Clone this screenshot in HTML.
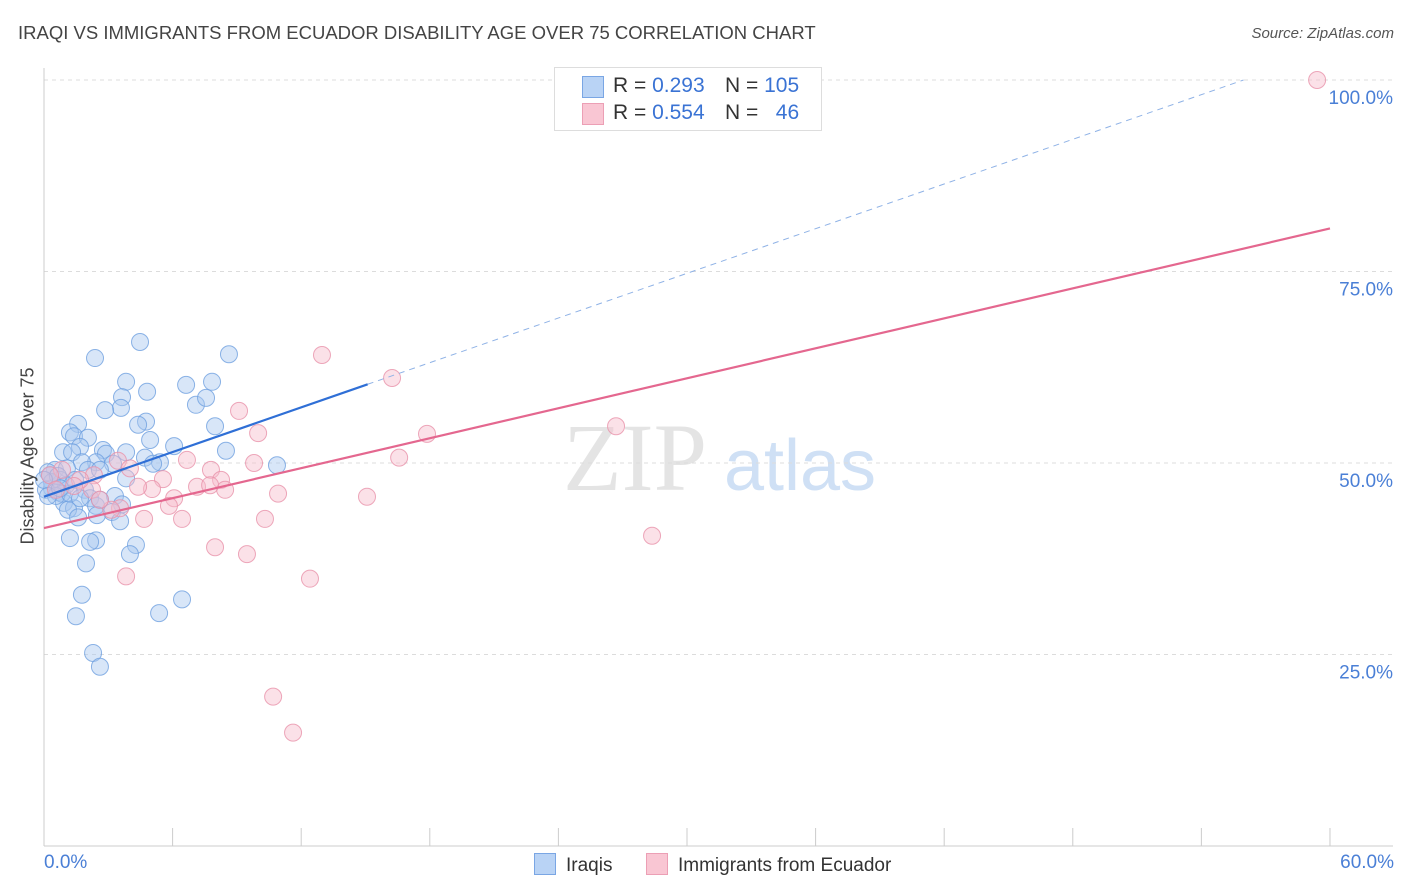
<!DOCTYPE html>
<html><head><meta charset="utf-8"><style>
body{margin:0;background:#fff;font-family:"Liberation Sans",sans-serif;}
svg{display:block}
</style></head><body>
<svg id="chart" width="1406" height="892"></svg>
<script>
const blueX=[2.38,4.48,8.63,3.83,6.63,7.84,4.81,3.64,7.09,7.56,3.59,2.85,4.76,4.39,7.98,1.59,1.21,1.40,2.05,4.95,1.68,2.75,3.83,6.07,8.49,2.89,0.89,1.31,2.43,1.77,4.71,5.41,3.22,5.09,10.87,0.51,1.07,2.05,2.61,0.28,0.75,1.45,3.83,0.37,0.65,1.03,1.91,2.15,3.31,0.93,1.40,2.43,2.61,3.64,1.12,3.17,2.47,3.55,1.59,1.21,2.43,2.15,4.29,4.01,1.96,1.77,1.49,5.37,6.44,2.29,2.61,0.19,0.37,0.65,0.84,0.09,0.56,1.21,1.68,0.0,0.19,0.75];
const blueY=[63.7,65.8,64.2,60.6,60.2,60.6,59.3,58.6,57.6,58.5,57.2,56.9,55.4,55.0,54.8,55.1,54.0,53.5,53.3,53.0,52.1,51.7,51.4,52.2,51.6,51.2,51.4,51.4,50.1,50.1,50.7,50.1,49.9,49.9,49.7,49.1,49.3,49.1,49.1,48.4,47.8,47.8,48.0,46.7,46.2,47.1,46.5,45.4,45.7,44.8,44.1,44.4,45.2,44.6,43.9,43.6,43.2,42.4,42.9,40.2,39.9,39.7,39.3,38.1,36.9,32.8,30.0,30.4,32.2,25.2,23.4,48.8,47.5,48.3,46.0,46.5,45.7,46.0,45.4,47.8,45.7,46.7];
const pinkX=[59.4,12.97,16.24,9.10,26.69,9.99,17.87,16.57,3.45,6.67,9.80,7.79,2.33,5.55,8.26,10.92,7.14,8.45,5.04,4.39,6.07,15.07,3.55,5.83,4.67,6.44,10.31,3.13,7.98,9.47,28.37,3.83,12.41,10.69,11.62,2.24,1.68,0.84,0.28,2.61,0.56,1.40,7.75,4.01];
const pinkY=[100.0,64.1,61.1,56.8,54.8,53.9,53.8,50.7,50.3,50.4,50.0,49.1,48.4,47.9,47.8,46.0,46.9,46.5,46.6,46.9,45.4,45.6,44.1,44.4,42.7,42.7,42.7,43.9,39.0,38.1,40.5,35.2,34.9,19.5,14.8,46.5,47.8,49.1,48.4,45.2,46.5,47.0,47.1,49.3];
const yTicks=[25,50,75,100];
const yTickLabels=["25.0%","50.0%","75.0%","100.0%"];
const blueTrend=[45.6,0.972];
const pinkTrend=[41.5,0.652];

const NS="http://www.w3.org/2000/svg";
const svg=document.getElementById('chart');
const X=v=>44+v*21.433;
const Y=v=>846-v*7.66;
function mk(tag,attrs,parent){const e=document.createElementNS(NS,tag);for(const k in attrs)e.setAttribute(k,attrs[k]);(parent||svg).appendChild(e);return e;}

let t=mk('text',{x:635,y:490,'font-size':96,'font-family':'Liberation Serif,serif',fill:'#e4e4e4','text-anchor':'middle'});t.textContent='ZIP';


t=mk('text',{x:800,y:490,'font-size':72,fill:'#cfe0f5','text-anchor':'middle'});t.textContent='atlas';



yTicks.forEach((v,i)=>{
 const l=mk('line',{x1:44,x2:1393,y1:Y(v),y2:Y(v),stroke:'#dcdcdc','stroke-dasharray':'4,4'});
 
 
 const tx=mk('text',{x:1393,y:Y(v)+24,'font-size':19,fill:'#4a7fd6','text-anchor':'end'});tx.textContent=yTickLabels[i];
 
 
});
let a=mk('line',{x1:44,x2:44,y1:68,y2:846,stroke:'#ccc'});


a=mk('line',{x1:44,x2:1393,y1:846,y2:846,stroke:'#ccc'});


for(let i=0;i<=10;i++){const tk=mk('line',{x1:X(i*6),x2:X(i*6),y1:828,y2:846,stroke:'#ccc'});
 
 }

function pts(xs,ys,fill,stroke,name){xs.forEach((x,i)=>{const c=mk('circle',{cx:X(x),cy:Y(ys[i]),r:8.5,fill:fill,'fill-opacity':0.45,stroke:stroke,'stroke-opacity':0.8,'stroke-width':1});
 
 });}
pts(blueX,blueY,'#a9c8f0','#6fa0e0','iraqis-point');
pts(pinkX,pinkY,'#f7bccb','#e892aa','ecuador-point');

const bEnd=(100-blueTrend[0])/blueTrend[1];
let ln=mk('line',{x1:X(15.1),y1:Y(blueTrend[0]+blueTrend[1]*15.1),x2:X(bEnd),y2:Y(100),stroke:'#8fb2e6','stroke-width':1,'stroke-dasharray':'6,5'});


ln=mk('line',{x1:X(0),y1:Y(blueTrend[0]),x2:X(15.1),y2:Y(blueTrend[0]+blueTrend[1]*15.1),stroke:'#2f6fd6','stroke-width':2.2});


ln=mk('line',{x1:X(0),y1:Y(pinkTrend[0]),x2:X(60),y2:Y(pinkTrend[0]+pinkTrend[1]*60),stroke:'#e4678f','stroke-width':2.2});


</script>
<div style="position:absolute;left:18px;top:22px;font-size:18.5px;color:#444;">IRAQI VS IMMIGRANTS FROM ECUADOR DISABILITY AGE OVER 75 CORRELATION CHART</div>
<div style="position:absolute;right:12px;top:25px;font-size:15px;color:#555;font-style:italic;">Source: ZipAtlas.com</div>
<div style="position:absolute;left:28px;top:456px;font-size:18px;color:#444;transform:translate(-50%,-50%) rotate(-90deg);white-space:nowrap;">Disability Age Over 75</div>
<div style="position:absolute;left:44px;top:852px;font-size:19px;color:#4a7fd6;">0.0%</div>
<div style="position:absolute;right:12px;top:852px;font-size:19px;color:#4a7fd6;">60.0%</div>
<div style="position:absolute;left:554px;top:67px;width:266px;height:62px;border:1px solid #ddd;background:#fff;font-size:21px;color:#333;">
 <div style="position:absolute;left:27px;top:8px;width:20px;height:20px;background:#b9d3f5;border:1px solid #7aa6e4;"></div>
 <div style="position:absolute;left:58px;top:6px;">R = <span style="color:#3a73d4">0.293</span></div>
 <div style="position:absolute;left:170px;top:6px;">N = <span style="color:#3a73d4">105</span></div>
 <div style="position:absolute;left:27px;top:35px;width:20px;height:20px;background:#f9c6d3;border:1px solid #ec9fb5;"></div>
 <div style="position:absolute;left:58px;top:33px;">R = <span style="color:#3a73d4">0.554</span></div>
 <div style="position:absolute;left:170px;top:33px;">N = &nbsp;&nbsp;<span style="color:#3a73d4">46</span></div>
</div>
<div style="position:absolute;left:534px;top:853px;font-size:19px;color:#333;">
 <span style="display:inline-block;width:20px;height:20px;background:#b9d3f5;border:1px solid #7aa6e4;vertical-align:-4px;margin-right:10px;"></span>Iraqis</div>
<div style="position:absolute;left:646px;top:853px;font-size:19px;color:#333;">
 <span style="display:inline-block;width:20px;height:20px;background:#f9c6d3;border:1px solid #ec9fb5;vertical-align:-4px;margin-right:10px;"></span>Immigrants from Ecuador</div>
</body></html>
